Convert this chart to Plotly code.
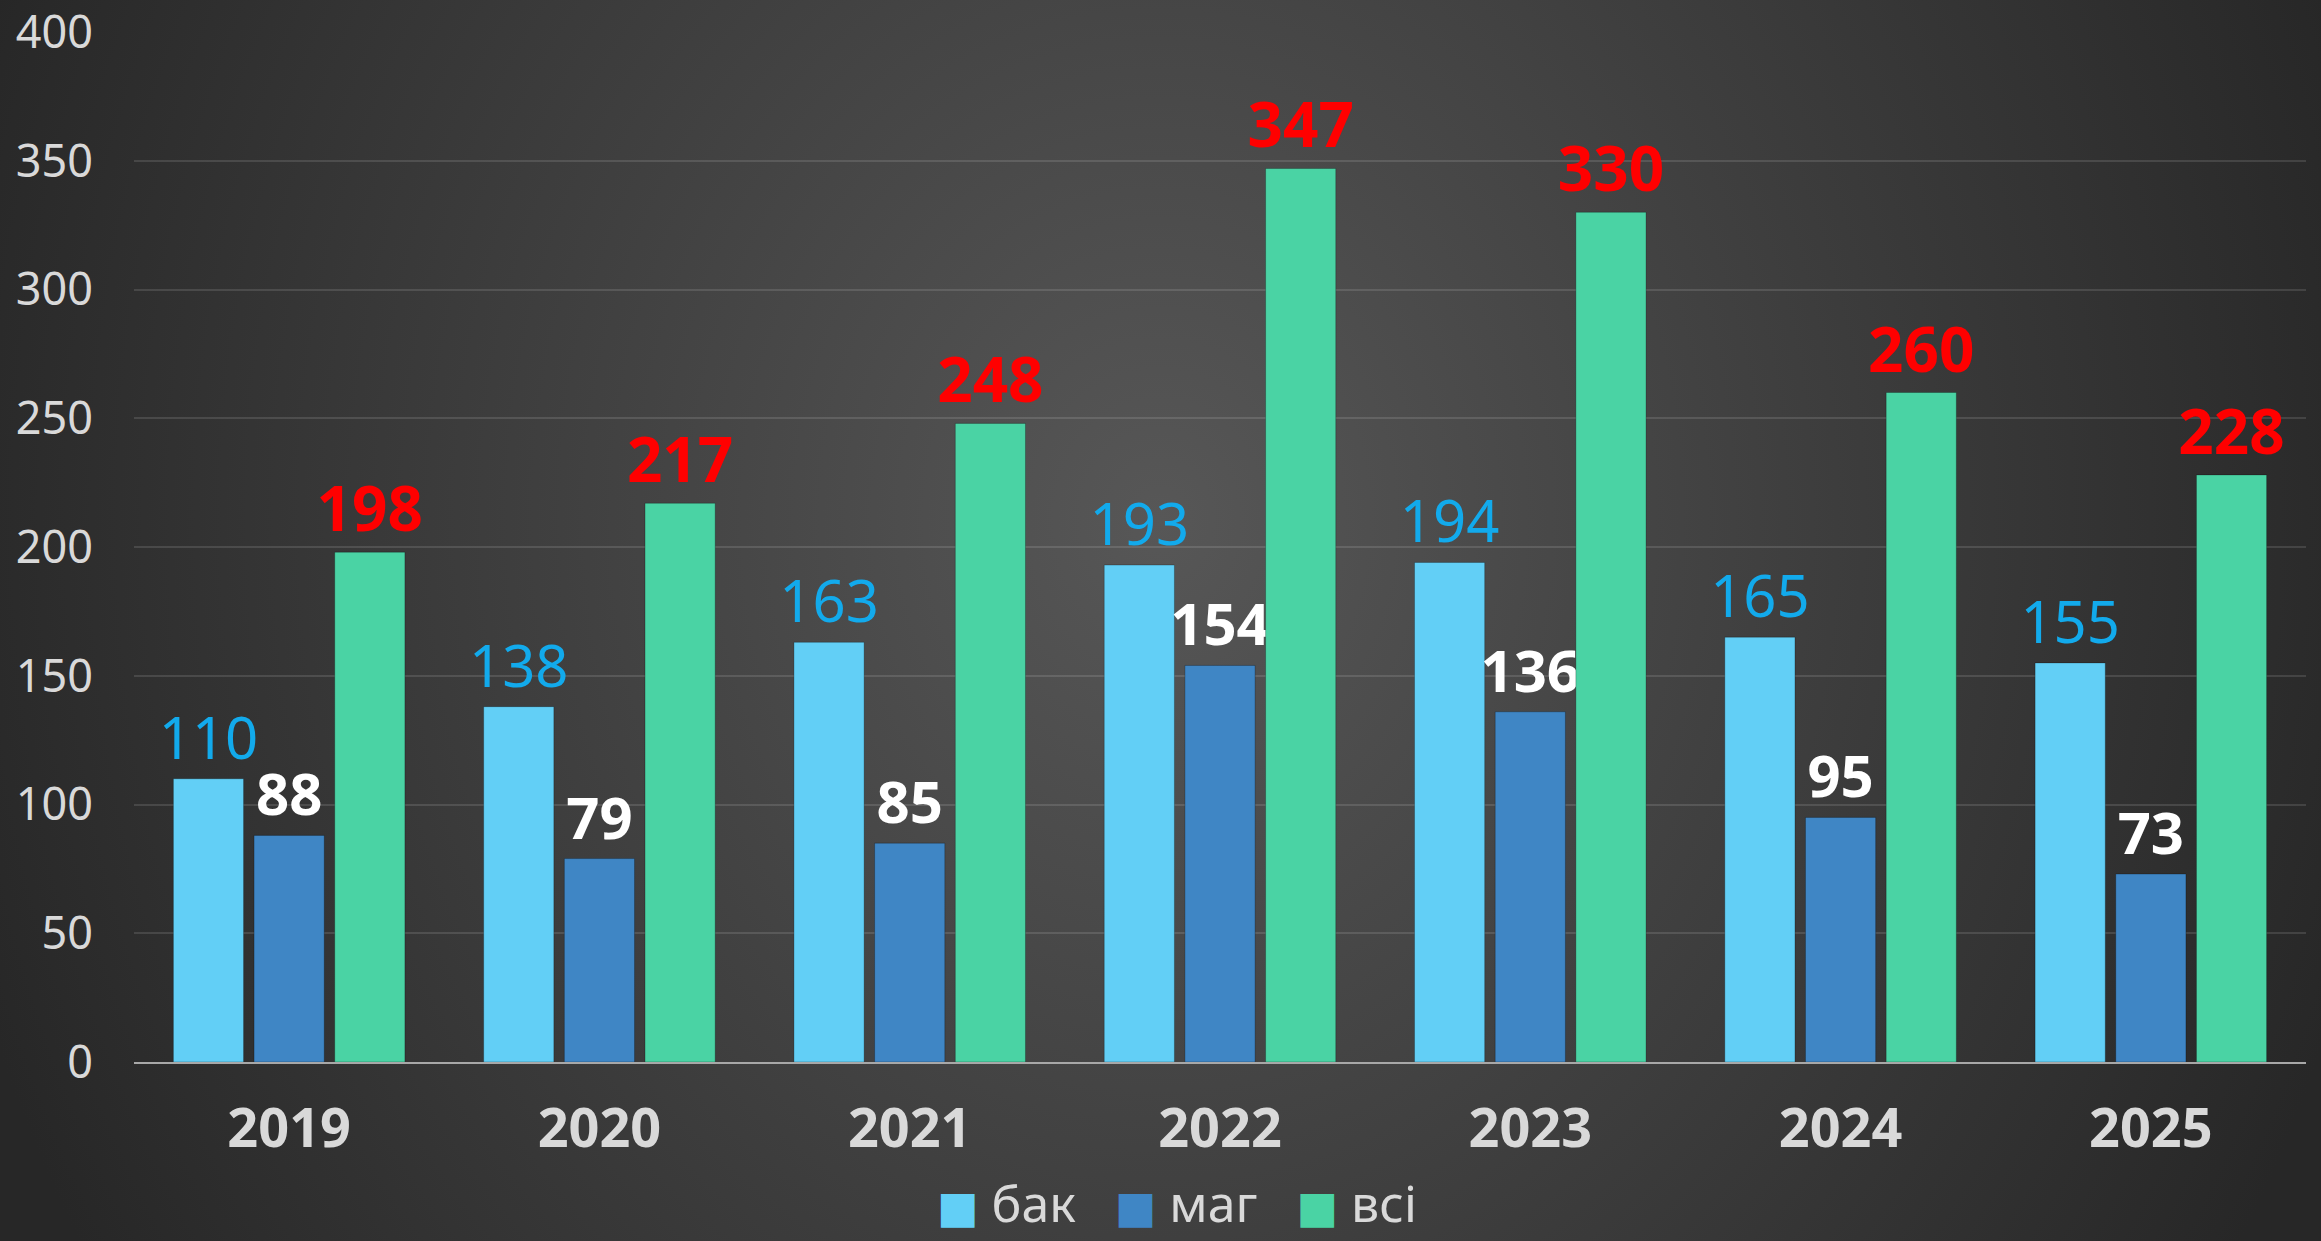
import base64
import plotly.graph_objects as go

years = ["2019", "2020", "2021", "2022", "2023", "2024", "2025"]
bak = [110, 138, 163, 193, 194, 165, 155]
mag = [88, 79, 85, 154, 136, 95, 73]
vsi = [198, 217, 248, 347, 330, 260, 228]
series_names = ["бак", "маг", "всі"]
series_colors = ["#62cff6", "#3f86c5", "#4ad3a4"]
y_ticks = [0, 50, 100, 150, 200, 250, 300, 350, 400]

W, H = 2321, 1241
ML, MR, MT, MB = 134, 15, 32, 179
PW, PH = W - ML - MR, H - MT - MB

FONT = "Noto Sans"

svg = f"""<svg xmlns='http://www.w3.org/2000/svg' width='{W}' height='{H}' viewBox='0 0 {W} {H}' preserveAspectRatio='none'>
<defs><radialGradient id='g' gradientUnits='userSpaceOnUse' cx='1160' cy='520' r='1250'
gradientTransform='translate(1160 520) scale(1 1.15) translate(-1160 -520)'>
<stop offset='0' stop-color='#575757'/><stop offset='1' stop-color='#272727'/></radialGradient></defs>
<rect width='{W}' height='{H}' fill='url(#g)'/></svg>"""
bg_src = "data:image/svg+xml;base64," + base64.b64encode(svg.encode()).decode()

fig = go.Figure()
label_fonts = [
    dict(family=FONT, size=58, color="#12aaec"),
    dict(family=FONT, size=58, color="#ffffff", weight="bold"),
    dict(family=FONT, size=62, color="#ff0000", weight="bold"),
]
for vals, name, color, tf in zip([bak, mag, vsi], series_names, series_colors, label_fonts):
    fig.add_trace(go.Bar(
        x=years, y=vals, name=name, showlegend=False,
        marker=dict(color=color, line=dict(color="rgba(0,0,0,0.25)", width=1)),
        text=[str(v) for v in vals], textposition="outside",
        textfont=tf, outsidetextfont=tf, constraintext="none", cliponaxis=False,
    ))

# legend built as text: coloured square glyph + series name
nb = "\u00a0"
legend_text = (nb * 3).join(
    f"<span style='color:{c};font-family:DejaVu Sans;font-size:44px'>■</span>{nb}{n}"
    for n, c in zip(series_names, series_colors)
)

fig.update_layout(
    width=W, height=H,
    margin=dict(l=ML, r=MR, t=MT, b=MB, autoexpand=False),
    paper_bgcolor="#3a3a3a",
    plot_bgcolor="rgba(0,0,0,0)",
    barmode="group", bargap=0.22, bargroupgap=0.13,
    font=dict(family=FONT, color="#d9d9d9"),
    images=[dict(
        source=bg_src, xref="paper", yref="paper",
        x=-ML / PW, y=1 + MT / PH, sizex=W / PW, sizey=H / PH,
        xanchor="left", yanchor="top", sizing="stretch", layer="below",
    )],
    xaxis=dict(
        showgrid=False, showline=True, linecolor="#a8a8a8", linewidth=2,
        tickfont=dict(family=FONT, size=54, color="#d9d9d9", weight="bold"),
        ticks="", ticklabelstandoff=18, ticklabeloverflow="allow",
    ),
    yaxis=dict(
        range=[0, 400], tickvals=y_ticks, showgrid=True,
        gridcolor="rgba(255,255,255,0.12)", gridwidth=2, zeroline=False,
        tickfont=dict(family=FONT, size=45, color="#d9d9d9"),
        ticks="", ticklabelstandoff=40, ticklabeloverflow="allow",
    ),
    annotations=[dict(
        text=legend_text, xref="paper", yref="paper", x=0.48, y=-0.137,
        xanchor="center", yanchor="middle", showarrow=False,
        font=dict(family=FONT, size=50, color="#d9d9d9"),
    )],
    showlegend=False,
)

fig.write_html(
    "out.html",
    config={"displayModeBar": False},
    post_script="document.body.style.margin='0';document.body.style.overflow='hidden';",
)
